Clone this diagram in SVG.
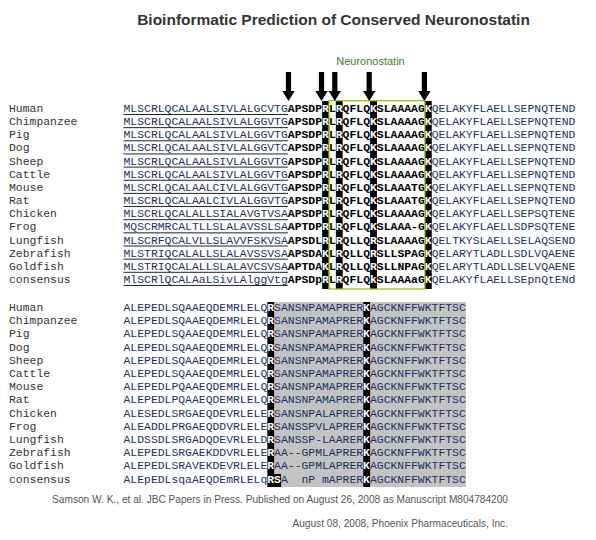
<svg xmlns="http://www.w3.org/2000/svg" width="596" height="540" viewBox="0 0 596 540">
<style>
.title{font-family:"Liberation Sans",Arial,sans-serif;font-size:15.5px;font-weight:bold;fill:#333;}
.nlab{font-family:"Liberation Sans",Arial,sans-serif;font-size:11px;fill:#4d7a1f;}
.foot{font-family:"Liberation Sans",Arial,sans-serif;font-size:10.15px;fill:#555;}
.lbl{font-family:"Liberation Mono","Courier New",monospace;font-size:11.4167px;fill:#333;white-space:pre;}
.seq{font-family:"Liberation Mono","Courier New",monospace;font-size:11.4167px;fill:#23305e;white-space:pre;}
.b{font-weight:bold;fill:#000;}
.w{font-weight:bold;fill:#fff;}
.ul{stroke:#222;stroke-width:1;}
.blk{fill:#000;}
.gry{fill:#c3c3c3;}
.nbox{fill:none;stroke:#9dc40f;stroke-width:1.3;}
</style>
<defs>
<path id="arr" d="M-2.6,0 h5.2 v19 h3.6 l-6.2,10 l-6.2,-10 h3.6z" fill="#000"/>
</defs>

<text class="title" x="333.5" y="25" text-anchor="middle">Bioinformatic Prediction of Conserved Neuronostatin</text>
<text class="nlab" x="370.5" y="65" text-anchor="middle">Neuronostatin</text>

<g id="top-highlights">
<rect class="blk" x="322.15" y="101" width="6.85" height="188"/>
<rect class="blk" x="335.85" y="101" width="6.85" height="188"/>
<rect class="blk" x="370.1" y="101" width="6.85" height="188"/>
<rect class="blk" x="424.9" y="101" width="6.85" height="188"/>
</g>

<g id="top-human"><text class="lbl" x="9" y="112">Human</text><text class="seq" x="123.5" y="112"><tspan>MLSCRLQCALAALSIVLALGCVTG</tspan><tspan class="b">APSDP</tspan><tspan class="w">R</tspan><tspan class="b">L</tspan><tspan class="w">R</tspan><tspan class="b">QFLQ</tspan><tspan class="w">K</tspan><tspan class="b">SLAAAAG</tspan><tspan class="w">K</tspan><tspan>QELAKYFLAELLSEPNQTEND</tspan></text><line class="ul" x1="123.5" y1="114.5" x2="287.9" y2="114.5"/></g>
<g id="top-chimpanzee"><text class="lbl" x="9" y="125.15">Chimpanzee</text><text class="seq" x="123.5" y="125.15"><tspan>MLSCRLQCALAALSIVLALGGVTG</tspan><tspan class="b">APSDP</tspan><tspan class="w">R</tspan><tspan class="b">L</tspan><tspan class="w">R</tspan><tspan class="b">QFLQ</tspan><tspan class="w">K</tspan><tspan class="b">SLAAAAG</tspan><tspan class="w">K</tspan><tspan>QELAKYFLAELLSEPNQTEND</tspan></text><line class="ul" x1="123.5" y1="127.65" x2="287.9" y2="127.65"/></g>
<g id="top-pig"><text class="lbl" x="9" y="138.3">Pig</text><text class="seq" x="123.5" y="138.3"><tspan>MLSCRLQCALAALSIVLALGGVTG</tspan><tspan class="b">APSDP</tspan><tspan class="w">R</tspan><tspan class="b">L</tspan><tspan class="w">R</tspan><tspan class="b">QFLQ</tspan><tspan class="w">K</tspan><tspan class="b">SLAAAAG</tspan><tspan class="w">K</tspan><tspan>QELAKYFLAELLSEPNQTEND</tspan></text><line class="ul" x1="123.5" y1="140.8" x2="287.9" y2="140.8"/></g>
<g id="top-dog"><text class="lbl" x="9" y="151.45">Dog</text><text class="seq" x="123.5" y="151.45"><tspan>MLSCRLQCALAALSIVLALGGVTC</tspan><tspan class="b">APSDP</tspan><tspan class="w">R</tspan><tspan class="b">L</tspan><tspan class="w">R</tspan><tspan class="b">QFLQ</tspan><tspan class="w">K</tspan><tspan class="b">SLAAAAG</tspan><tspan class="w">K</tspan><tspan>QELAKYFLAELLSEPNQTEND</tspan></text><line class="ul" x1="123.5" y1="153.95" x2="287.9" y2="153.95"/></g>
<g id="top-sheep"><text class="lbl" x="9" y="164.6">Sheep</text><text class="seq" x="123.5" y="164.6"><tspan>MLSCRLQCALAALSIVLALGGVTG</tspan><tspan class="b">APSDP</tspan><tspan class="w">R</tspan><tspan class="b">L</tspan><tspan class="w">R</tspan><tspan class="b">QFLQ</tspan><tspan class="w">K</tspan><tspan class="b">SLAAAAG</tspan><tspan class="w">K</tspan><tspan>QELAKYFLAELLSEPNQTEND</tspan></text><line class="ul" x1="123.5" y1="167.1" x2="287.9" y2="167.1"/></g>
<g id="top-cattle"><text class="lbl" x="9" y="177.75">Cattle</text><text class="seq" x="123.5" y="177.75"><tspan>MLSCRLQCALAALSIVLALGGVTG</tspan><tspan class="b">APSDP</tspan><tspan class="w">R</tspan><tspan class="b">L</tspan><tspan class="w">R</tspan><tspan class="b">QFLQ</tspan><tspan class="w">K</tspan><tspan class="b">SLAAAAG</tspan><tspan class="w">K</tspan><tspan>QELAKYFLAELLSEPNQTEND</tspan></text><line class="ul" x1="123.5" y1="180.25" x2="287.9" y2="180.25"/></g>
<g id="top-mouse"><text class="lbl" x="9" y="190.9">Mouse</text><text class="seq" x="123.5" y="190.9"><tspan>MLSCRLQCALAALCIVLALGGVTG</tspan><tspan class="b">APSDP</tspan><tspan class="w">R</tspan><tspan class="b">L</tspan><tspan class="w">R</tspan><tspan class="b">QFLQ</tspan><tspan class="w">K</tspan><tspan class="b">SLAAATG</tspan><tspan class="w">K</tspan><tspan>QELAKYFLAELLSEPNQTEND</tspan></text><line class="ul" x1="123.5" y1="193.4" x2="287.9" y2="193.4"/></g>
<g id="top-rat"><text class="lbl" x="9" y="204.05">Rat</text><text class="seq" x="123.5" y="204.05"><tspan>MLSCRLQCALAALCIVLALGGVTG</tspan><tspan class="b">APSDP</tspan><tspan class="w">R</tspan><tspan class="b">L</tspan><tspan class="w">R</tspan><tspan class="b">QFLQ</tspan><tspan class="w">K</tspan><tspan class="b">SLAAATG</tspan><tspan class="w">K</tspan><tspan>QELAKYFLAELLSEPNQTEND</tspan></text><line class="ul" x1="123.5" y1="206.55" x2="287.9" y2="206.55"/></g>
<g id="top-chicken"><text class="lbl" x="9" y="217.2">Chicken</text><text class="seq" x="123.5" y="217.2"><tspan>MLSCRLQCALALLSIALAVGTVSA</tspan><tspan class="b">APSDP</tspan><tspan class="w">R</tspan><tspan class="b">L</tspan><tspan class="w">R</tspan><tspan class="b">QFLQ</tspan><tspan class="w">K</tspan><tspan class="b">SLAAAAG</tspan><tspan class="w">K</tspan><tspan>QELAKYFLAELLSEPSQTENE</tspan></text><line class="ul" x1="123.5" y1="219.7" x2="287.9" y2="219.7"/></g>
<g id="top-frog"><text class="lbl" x="9" y="230.35">Frog</text><text class="seq" x="123.5" y="230.35"><tspan>MQSCRMRCALTLLSLALAVSSLSA</tspan><tspan class="b">APTDP</tspan><tspan class="w">R</tspan><tspan class="b">L</tspan><tspan class="w">R</tspan><tspan class="b">QFLQ</tspan><tspan class="w">K</tspan><tspan class="b">SLAAA-G</tspan><tspan class="w">K</tspan><tspan>QELAKYFLAELLSDPSQTENE</tspan></text><line class="ul" x1="123.5" y1="232.85" x2="287.9" y2="232.85"/></g>
<g id="top-lungfish"><text class="lbl" x="9" y="243.5">Lungfish</text><text class="seq" x="123.5" y="243.5"><tspan>MLSCRFQCALVLLSLAVVFSKVSA</tspan><tspan class="b">APSDL</tspan><tspan class="w">R</tspan><tspan class="b">L</tspan><tspan class="w">R</tspan><tspan class="b">QLLQ</tspan><tspan class="w">R</tspan><tspan class="b">SLAAAAG</tspan><tspan class="w">K</tspan><tspan>QELTKYSLAELLSELAQSEND</tspan></text><line class="ul" x1="123.5" y1="246" x2="287.9" y2="246"/></g>
<g id="top-zebrafish"><text class="lbl" x="9" y="256.65">Zebrafish</text><text class="seq" x="123.5" y="256.65"><tspan>MLSTRIQCALALLSLALAVSSVSA</tspan><tspan class="b">APSDA</tspan><tspan class="w">K</tspan><tspan class="b">L</tspan><tspan class="w">R</tspan><tspan class="b">QLLQ</tspan><tspan class="w">R</tspan><tspan class="b">SLLSPAG</tspan><tspan class="w">K</tspan><tspan>QELARYTLADLLSDLVQAENE</tspan></text><line class="ul" x1="123.5" y1="259.15" x2="287.9" y2="259.15"/></g>
<g id="top-goldfish"><text class="lbl" x="9" y="269.8">Goldfish</text><text class="seq" x="123.5" y="269.8"><tspan>MLSTRIQCALALLSLALAVCSVSA</tspan><tspan class="b">APTDA</tspan><tspan class="w">K</tspan><tspan class="b">L</tspan><tspan class="w">R</tspan><tspan class="b">QLLQ</tspan><tspan class="w">R</tspan><tspan class="b">SLLNPAG</tspan><tspan class="w">K</tspan><tspan>QELARYTLADLLSELVQAENE</tspan></text><line class="ul" x1="123.5" y1="272.3" x2="287.9" y2="272.3"/></g>
<g id="top-consensus"><text class="lbl" x="9" y="282.95">consensus</text><text class="seq" x="123.5" y="282.95"><tspan>MlSCRlQCALAaLSivLAlggVtg</tspan><tspan class="b">APSDp</tspan><tspan class="w">R</tspan><tspan class="b">L</tspan><tspan class="w">R</tspan><tspan class="b">QFLQ</tspan><tspan class="w">k</tspan><tspan class="b">SLAAAaG</tspan><tspan class="w">K</tspan><tspan>QELAKYfLAELLSEpnQtENd</tspan></text><line class="ul" x1="123.5" y1="285.45" x2="287.9" y2="285.45"/></g>

<g id="neuronostatin-box"><rect class="nbox" x="329" y="100.7" width="95.9" height="188.3"/></g>

<g id="connectors">
<use href="#arr" x="288.5" y="72"/>
<use href="#arr" x="321.5" y="72"/>
<use href="#arr" x="334.8" y="72"/>
<use href="#arr" x="369.2" y="72"/>
<use href="#arr" x="424.4" y="72"/>
</g>

<g id="bottom-highlights">
<rect class="gry" x="274.2" y="302" width="191.8" height="185"/>
<rect class="blk" x="267.35" y="302" width="6.85" height="185"/>
<rect class="blk" x="363.25" y="302" width="6.85" height="185"/>
<rect class="blk" x="274.2" y="474" width="6.85" height="13"/>
</g>

<g id="bot-human"><text class="lbl" x="9" y="311">Human</text><text class="seq" x="123.5" y="311"><tspan>ALEPEDLSQAAEQDEMRLELQ</tspan><tspan class="w">R</tspan><tspan>SANSNPAMAPRER</tspan><tspan class="w">K</tspan><tspan>AGCKNFFWKTFTSC</tspan></text></g>
<g id="bot-chimpanzee"><text class="lbl" x="9" y="324.2">Chimpanzee</text><text class="seq" x="123.5" y="324.2"><tspan>ALEPEDLSQAAEQDEMRLELQ</tspan><tspan class="w">R</tspan><tspan>SANSNPAMAPRER</tspan><tspan class="w">K</tspan><tspan>AGCKNFFWKTFTSC</tspan></text></g>
<g id="bot-pig"><text class="lbl" x="9" y="337.4">Pig</text><text class="seq" x="123.5" y="337.4"><tspan>ALEPEDLSQAAEQDEMRLELQ</tspan><tspan class="w">R</tspan><tspan>SANSNPAMAPRER</tspan><tspan class="w">K</tspan><tspan>AGCKNFFWKTFTSC</tspan></text></g>
<g id="bot-dog"><text class="lbl" x="9" y="350.6">Dog</text><text class="seq" x="123.5" y="350.6"><tspan>ALEPEDLSQAAEQDEMRLELQ</tspan><tspan class="w">R</tspan><tspan>SANSNPAMAPRER</tspan><tspan class="w">K</tspan><tspan>AGCKNFFWKTFTSC</tspan></text></g>
<g id="bot-sheep"><text class="lbl" x="9" y="363.8">Sheep</text><text class="seq" x="123.5" y="363.8"><tspan>ALEPEDLSQAAEQDEMRLELQ</tspan><tspan class="w">R</tspan><tspan>SANSNPAMAPRER</tspan><tspan class="w">K</tspan><tspan>AGCKNFFWKTFTSC</tspan></text></g>
<g id="bot-cattle"><text class="lbl" x="9" y="377">Cattle</text><text class="seq" x="123.5" y="377"><tspan>ALEPEDLSQAAEQDEMRLELQ</tspan><tspan class="w">R</tspan><tspan>SANSNPAMAPRER</tspan><tspan class="w">K</tspan><tspan>AGCKNFFWKTFTSC</tspan></text></g>
<g id="bot-mouse"><text class="lbl" x="9" y="390.2">Mouse</text><text class="seq" x="123.5" y="390.2"><tspan>ALEPEDLPQAAEQDEMRLELQ</tspan><tspan class="w">R</tspan><tspan>SANSNPAMAPRER</tspan><tspan class="w">K</tspan><tspan>AGCKNFFWKTFTSC</tspan></text></g>
<g id="bot-rat"><text class="lbl" x="9" y="403.4">Rat</text><text class="seq" x="123.5" y="403.4"><tspan>ALEPEDLPQAAEQDEMRLELQ</tspan><tspan class="w">R</tspan><tspan>SANSNPAMAPRER</tspan><tspan class="w">K</tspan><tspan>AGCKNFFWKTFTSC</tspan></text></g>
<g id="bot-chicken"><text class="lbl" x="9" y="416.6">Chicken</text><text class="seq" x="123.5" y="416.6"><tspan>ALESEDLSRGAEQDEVRLELE</tspan><tspan class="w">R</tspan><tspan>SANSNPALAPRER</tspan><tspan class="w">K</tspan><tspan>AGCKNFFWKTFTSC</tspan></text></g>
<g id="bot-frog"><text class="lbl" x="9" y="429.8">Frog</text><text class="seq" x="123.5" y="429.8"><tspan>ALEADDLPRGAEQDDVRLELE</tspan><tspan class="w">R</tspan><tspan>SANSSPVLAPRER</tspan><tspan class="w">K</tspan><tspan>AGCKNFFWKTFTSC</tspan></text></g>
<g id="bot-lungfish"><text class="lbl" x="9" y="443">Lungfish</text><text class="seq" x="123.5" y="443"><tspan>ALDSSDLSRGADQDEVRLELD</tspan><tspan class="w">R</tspan><tspan>SANSSP-LAARER</tspan><tspan class="w">K</tspan><tspan>AGCKNFFWKTFTSC</tspan></text></g>
<g id="bot-zebrafish"><text class="lbl" x="9" y="456.2">Zebrafish</text><text class="seq" x="123.5" y="456.2"><tspan>ALEPEDLSRGAEKDDVRLELE</tspan><tspan class="w">R</tspan><tspan>AA--GPMLAPRER</tspan><tspan class="w">K</tspan><tspan>AGCKNFFWKTFTSC</tspan></text></g>
<g id="bot-goldfish"><text class="lbl" x="9" y="469.4">Goldfish</text><text class="seq" x="123.5" y="469.4"><tspan>ALEPEDLSRAVEKDEVRLELE</tspan><tspan class="w">R</tspan><tspan>AA--GPMLAPRER</tspan><tspan class="w">K</tspan><tspan>AGCKNFFWKTFTSC</tspan></text></g>
<g id="bot-consensus"><text class="lbl" x="9" y="482.6">consensus</text><text class="seq" x="123.5" y="482.6"><tspan>ALEpEDLsqaAEQDEmRLELq</tspan><tspan class="w">RS</tspan><tspan>A  nP mAPRER</tspan><tspan class="w">K</tspan><tspan>AGCKNFFWKTFTSC</tspan></text></g>

<text class="foot" x="508" y="503" text-anchor="end">Samson W. K., et al. JBC Papers in Press. Published on August 26, 2008 as Manuscript M804784200</text>
<text class="foot" x="508" y="527" text-anchor="end">August 08, 2008, Phoenix Pharmaceuticals, Inc.</text>
</svg>
